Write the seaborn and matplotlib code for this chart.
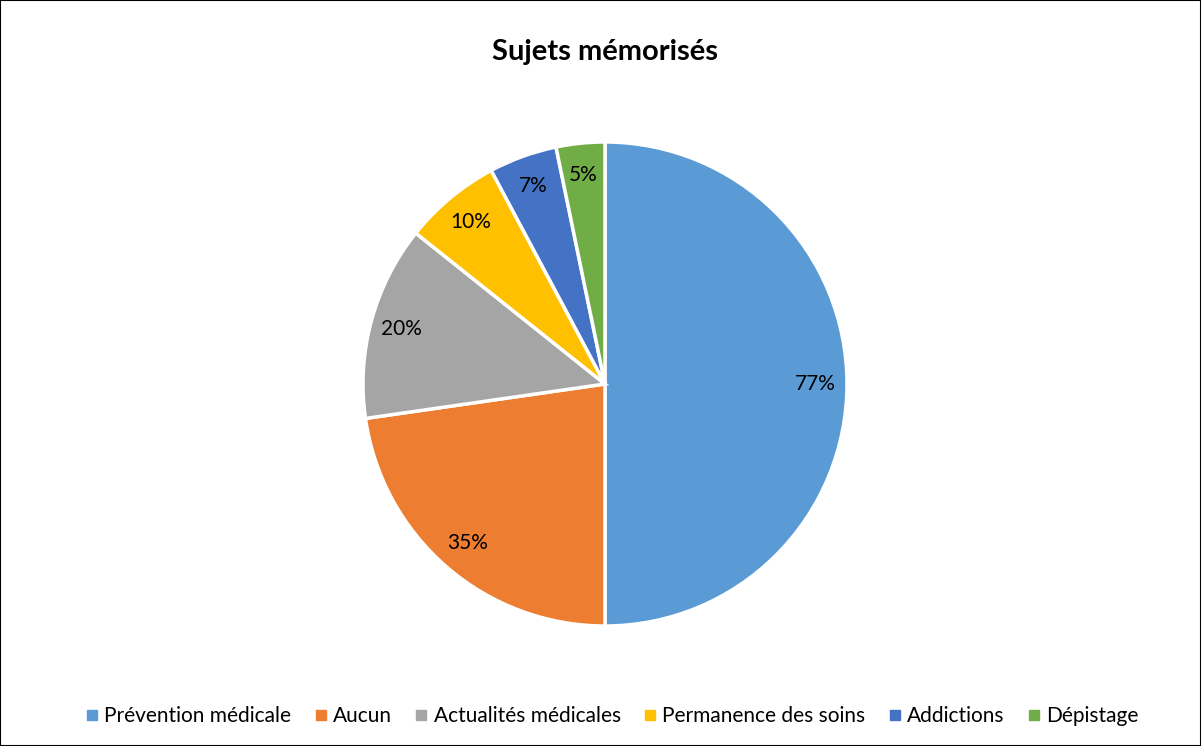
import matplotlib
matplotlib.use("Agg")
import matplotlib.pyplot as plt
from matplotlib.lines import Line2D
from matplotlib.patches import Rectangle
import seaborn as sns

categories = ["Prévention médicale", "Aucun", "Actualités médicales",
              "Permanence des soins", "Addictions", "Dépistage"]
values = [77, 35, 20, 10, 7, 5]
pct_labels = ["77%", "35%", "20%", "10%", "7%", "5%"]
colors = ["#5B9BD5", "#ED7D31", "#A5A5A5", "#FFC000", "#4472C4", "#70AD47"]

sns.set_theme(style="white")
plt.rcParams['font.family'] = ['Lato', 'DejaVu Sans']
plt.rcParams['text.color'] = 'black'
palette = sns.color_palette(colors)

fig = plt.figure(figsize=(12.01, 7.46), dpi=100)
ax = fig.add_axes([(605 - 242) / 1201, (746 - 626) / 746, 484 / 1201, 484 / 746])

label_iter = iter(pct_labels)
wedges, texts, autotexts = ax.pie(
    values, colors=palette, startangle=90, counterclock=False,
    autopct=lambda p: next(label_iter), pctdistance=0.87, radius=1,
    wedgeprops=dict(edgecolor="white", linewidth=2.5),
    textprops=dict(fontsize=15, color="black"))
ax.set_xlim(-1, 1)
ax.set_ylim(-1, 1)
ax.set_aspect("equal")
ax.axis("off")

fig.text(0.504, (746 - 52) / 746, "Sujets mémorisés", ha="center", va="center",
         fontsize=21, fontweight="bold", color="black")

handles = [Line2D([0], [0], marker="s", linestyle="", markersize=7,
                  markerfacecolor=c, markeredgecolor=c) for c in colors]
fig.legend(handles, categories, loc="center", bbox_to_anchor=(0.508, (746 - 716) / 746),
           ncol=6, frameon=False, fontsize=15, handletextpad=0.1, columnspacing=0.9,
           handlelength=1.0)

fig.patches.append(Rectangle((0, 0), 1, 1, transform=fig.transFigure, fill=False,
                             edgecolor="black", linewidth=1.5))

fig.savefig("out.png", dpi=100)
